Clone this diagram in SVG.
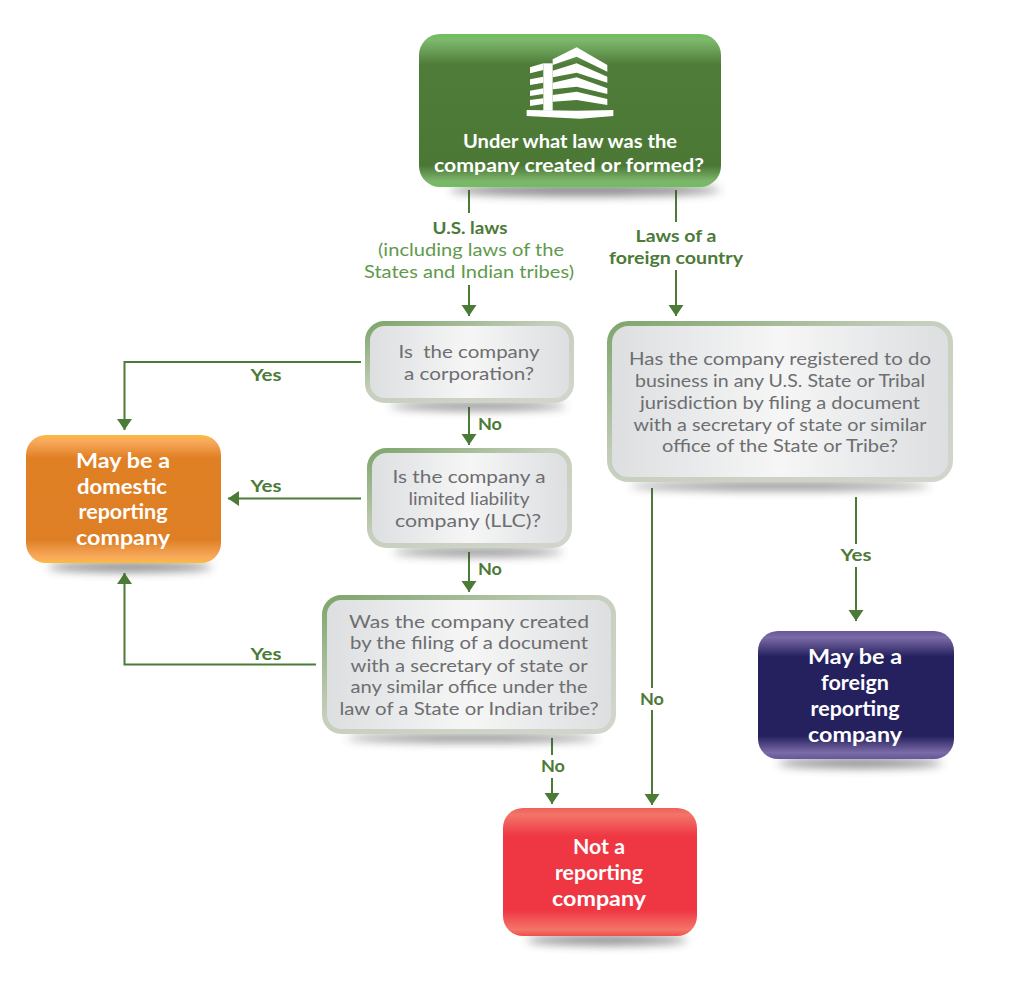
<svg xmlns="http://www.w3.org/2000/svg" width="1024" height="986" viewBox="0 0 1024 986">
<style>
text{font-family:"Lato","Noto Sans","Liberation Sans",sans-serif;text-anchor:middle}
.t{font-size:18px;fill:#6d6e71;font-weight:400}
.w{font-size:20px;fill:#fff;font-weight:700}
.h{font-size:19px;fill:#fff;font-weight:700}
.l{font-size:17px;fill:#4c7a37;font-weight:700}
.s{font-size:18px;fill:#5f9a4c;font-weight:400}
.c{fill:none;stroke:#4c7a37;stroke-width:2}
.a{marker-end:url(#arrow)}
.sh{fill:#3c3c3c;opacity:.62;filter:url(#blur)}
.g{fill:url(#gray);stroke:url(#edge);stroke-width:5}
</style>
<defs>
<marker id="arrow" markerUnits="userSpaceOnUse" markerWidth="16" markerHeight="16" refX="11" refY="8" orient="auto"><path d="M0,0.500L11,8L0,15.500Z" fill="#4c7a37"/></marker>
<filter id="blur" x="-20%" y="-150%" width="140%" height="400%"><feGaussianBlur stdDeviation="5"/></filter>
<linearGradient id="gray" x1="0" x2="1" y1="0" y2="0"><stop offset="0" stop-color="#dcdee0"/><stop offset=".5" stop-color="#f6f6f6"/><stop offset="1" stop-color="#dcdee0"/></linearGradient>
<linearGradient id="edge" x1="0" y1="0" x2="1" y2="1"><stop offset="0" stop-color="#7ea56b"/><stop offset=".45" stop-color="#c6cfbd"/><stop offset="1" stop-color="#d2d5cc"/></linearGradient>
<linearGradient id="green" x1="0" x2="0" y1="0" y2="1"><stop offset="0" stop-color="#6fbe5c"/><stop offset=".04" stop-color="#7db86c"/><stop offset=".2" stop-color="#4f7c39"/><stop offset=".86" stop-color="#4b7835"/><stop offset=".96" stop-color="#7db56c"/><stop offset="1" stop-color="#6fbe5c"/></linearGradient>
<linearGradient id="orange" x1="0" x2="0" y1="0" y2="1"><stop offset="0" stop-color="#fdb93f"/><stop offset=".05" stop-color="#f8a95c"/><stop offset=".18" stop-color="#e08024"/><stop offset=".82" stop-color="#de7f26"/><stop offset=".95" stop-color="#f8a95c"/><stop offset="1" stop-color="#fdb93f"/></linearGradient>
<linearGradient id="purple" x1="0" x2="0" y1="0" y2="1"><stop offset="0" stop-color="#67569c"/><stop offset=".05" stop-color="#7b6ba6"/><stop offset=".2" stop-color="#25215f"/><stop offset=".82" stop-color="#25215f"/><stop offset=".95" stop-color="#7b6ba6"/><stop offset="1" stop-color="#67569c"/></linearGradient>
<linearGradient id="red" x1="0" x2="0" y1="0" y2="1"><stop offset="0" stop-color="#ef5f58"/><stop offset=".05" stop-color="#f37569"/><stop offset=".22" stop-color="#ef3744"/><stop offset=".8" stop-color="#ef3744"/><stop offset=".95" stop-color="#f37569"/><stop offset="1" stop-color="#ef5048"/></linearGradient>
</defs>

<g id="connectors">
<path class="c" d="M469,190V213"/>
<path class="c a" d="M469,285V316"/>
<path class="c" d="M676,190V222"/>
<path class="c a" d="M676,270V316"/>
<path class="c a" d="M361,362H124.500V430"/>
<path class="c a" d="M469,407V445"/>
<path class="c a" d="M361,498.500H228"/>
<path class="c a" d="M469,552V592"/>
<path class="c a" d="M316,664.500H124.500V573"/>
<path class="c" d="M552,738V755"/>
<path class="c a" d="M552,778V804"/>
<path class="c" d="M652,488V688"/>
<path class="c a" d="M652,710V805"/>
<path class="c" d="M856,497V544"/>
<path class="c a" d="M856,567V621"/>
</g>

<g id="edge-labels">
<text class="l" x="470" y="234" textLength="75" lengthAdjust="spacingAndGlyphs">U.S. laws</text>
<text class="s" x="471" y="256" textLength="186" lengthAdjust="spacingAndGlyphs">(including laws of the</text>
<text class="s" x="469" y="278" textLength="210" lengthAdjust="spacingAndGlyphs">States and Indian tribes)</text>
<text class="l" x="676" y="242" textLength="81" lengthAdjust="spacingAndGlyphs">Laws of a</text>
<text class="l" x="676" y="264" textLength="134" lengthAdjust="spacingAndGlyphs">foreign country</text>
<text class="l" x="266" y="381" textLength="31" lengthAdjust="spacingAndGlyphs">Yes</text>
<text class="l" x="490" y="430" textLength="24" lengthAdjust="spacingAndGlyphs">No</text>
<text class="l" x="266" y="492" textLength="31" lengthAdjust="spacingAndGlyphs">Yes</text>
<text class="l" x="490" y="575" textLength="24" lengthAdjust="spacingAndGlyphs">No</text>
<text class="l" x="266" y="660" textLength="31" lengthAdjust="spacingAndGlyphs">Yes</text>
<text class="l" x="553" y="772" textLength="24" lengthAdjust="spacingAndGlyphs">No</text>
<text class="l" x="652" y="705" textLength="24" lengthAdjust="spacingAndGlyphs">No</text>
<text class="l" x="856" y="561" textLength="31" lengthAdjust="spacingAndGlyphs">Yes</text>
</g>

<g id="node-law">
<ellipse class="sh" cx="585" cy="190" rx="135" ry="6"/>
<rect x="419" y="34" width="302" height="153" rx="21" fill="url(#green)"/>
<g fill="#fff" transform="translate(400,20) scale(.33333)">
<path d="M458,118L530,82L622,135V155L530,110L458,135Z"/>
<path d="M458,152L530,130L622,170V188L530,158L458,172Z"/>
<path d="M458,188L530,172L622,205V222L530,200L458,208Z"/>
<path d="M458,225L530,215L622,237V255L530,240L458,245Z"/>
<path d="M430,130H458V272H430Z"/>
<path d="M390,142L430,130V150L390,160Z"/>
<path d="M390,178L430,170V188L390,195Z"/>
<path d="M390,212L430,205V222L390,228Z"/>
<path d="M390,240L430,235V252L390,258Z"/>
<path d="M380,270L530,272L640,270V288L540,296L380,288Z"/>
</g>
<text class="h" x="570" y="148" textLength="214" lengthAdjust="spacingAndGlyphs">Under what law was the</text>
<text class="h" x="569" y="172" textLength="270" lengthAdjust="spacingAndGlyphs">company created or formed?</text>
</g>

<g id="node-corporation">
<ellipse class="sh" cx="478" cy="406" rx="88" ry="4"/>
<rect class="g" x="367.500" y="323.500" width="204" height="77" rx="17"/>
<text class="t" x="469" y="358" textLength="141" lengthAdjust="spacingAndGlyphs" xml:space="preserve">Is  the company</text>
<text class="t" x="469" y="380" textLength="130" lengthAdjust="spacingAndGlyphs">a corporation?</text>
</g>

<g id="node-llc">
<ellipse class="sh" cx="478" cy="552" rx="85" ry="4"/>
<rect class="g" x="369.500" y="450.500" width="200" height="95" rx="17"/>
<text class="t" x="469" y="483" textLength="153" lengthAdjust="spacingAndGlyphs">Is the company a</text>
<text class="t" x="469" y="505" textLength="121" lengthAdjust="spacingAndGlyphs">limited liability</text>
<text class="t" x="468" y="527" textLength="146" lengthAdjust="spacingAndGlyphs">company (LLC)?</text>
</g>

<g id="node-filing">
<ellipse class="sh" cx="472" cy="738" rx="125" ry="4"/>
<rect class="g" x="324.500" y="597.500" width="289" height="134" rx="17"/>
<text class="t" x="469" y="628" textLength="240" lengthAdjust="spacingAndGlyphs">Was the company created</text>
<text class="t" x="469" y="649" textLength="238" lengthAdjust="spacingAndGlyphs">by the filing of a document</text>
<text class="t" x="469" y="672" textLength="237" lengthAdjust="spacingAndGlyphs">with a secretary of state or</text>
<text class="t" x="469" y="693" textLength="237" lengthAdjust="spacingAndGlyphs">any similar office under the</text>
<text class="t" x="469" y="715" textLength="259" lengthAdjust="spacingAndGlyphs">law of a State or Indian tribe?</text>
</g>

<g id="node-registered">
<ellipse class="sh" cx="780" cy="486" rx="150" ry="4"/>
<rect class="g" x="609.500" y="323.500" width="341" height="156" rx="19"/>
<text class="t" x="780" y="365" textLength="302" lengthAdjust="spacingAndGlyphs">Has the company registered to do</text>
<text class="t" x="780" y="387" textLength="290" lengthAdjust="spacingAndGlyphs">business in any U.S. State or Tribal</text>
<text class="t" x="780" y="409" textLength="280" lengthAdjust="spacingAndGlyphs">jurisdiction by filing a document</text>
<text class="t" x="780" y="431" textLength="293" lengthAdjust="spacingAndGlyphs">with a secretary of state or similar</text>
<text class="t" x="780" y="452" textLength="236" lengthAdjust="spacingAndGlyphs">office of the State or Tribe?</text>
</g>

<g id="node-domestic">
<ellipse class="sh" cx="130" cy="567" rx="82" ry="5"/>
<rect x="26" y="435" width="195" height="128" rx="20" fill="url(#orange)"/>
<text class="w" x="123" y="468" textLength="94" lengthAdjust="spacingAndGlyphs">May be a</text>
<text class="w" x="122" y="494" textLength="90" lengthAdjust="spacingAndGlyphs">domestic</text>
<text class="w" x="123" y="519" textLength="89" lengthAdjust="spacingAndGlyphs">reporting</text>
<text class="w" x="123" y="545" textLength="94" lengthAdjust="spacingAndGlyphs">company</text>
</g>

<g id="node-foreign">
<ellipse class="sh" cx="860" cy="763" rx="82" ry="5"/>
<rect x="758" y="631" width="196" height="128" rx="20" fill="url(#purple)"/>
<text class="w" x="855" y="664" textLength="94" lengthAdjust="spacingAndGlyphs">May be a</text>
<text class="w" x="855" y="690" textLength="68" lengthAdjust="spacingAndGlyphs">foreign</text>
<text class="w" x="855" y="716" textLength="89" lengthAdjust="spacingAndGlyphs">reporting</text>
<text class="w" x="855" y="742" textLength="94" lengthAdjust="spacingAndGlyphs">company</text>
</g>

<g id="node-not">
<ellipse class="sh" cx="607" cy="940" rx="80" ry="5"/>
<rect x="503" y="808" width="194" height="128" rx="20" fill="url(#red)"/>
<text class="w" x="599" y="854" textLength="52" lengthAdjust="spacingAndGlyphs">Not a</text>
<text class="w" x="599" y="880" textLength="88" lengthAdjust="spacingAndGlyphs">reporting</text>
<text class="w" x="599" y="906" textLength="94" lengthAdjust="spacingAndGlyphs">company</text>
</g>
</svg>
